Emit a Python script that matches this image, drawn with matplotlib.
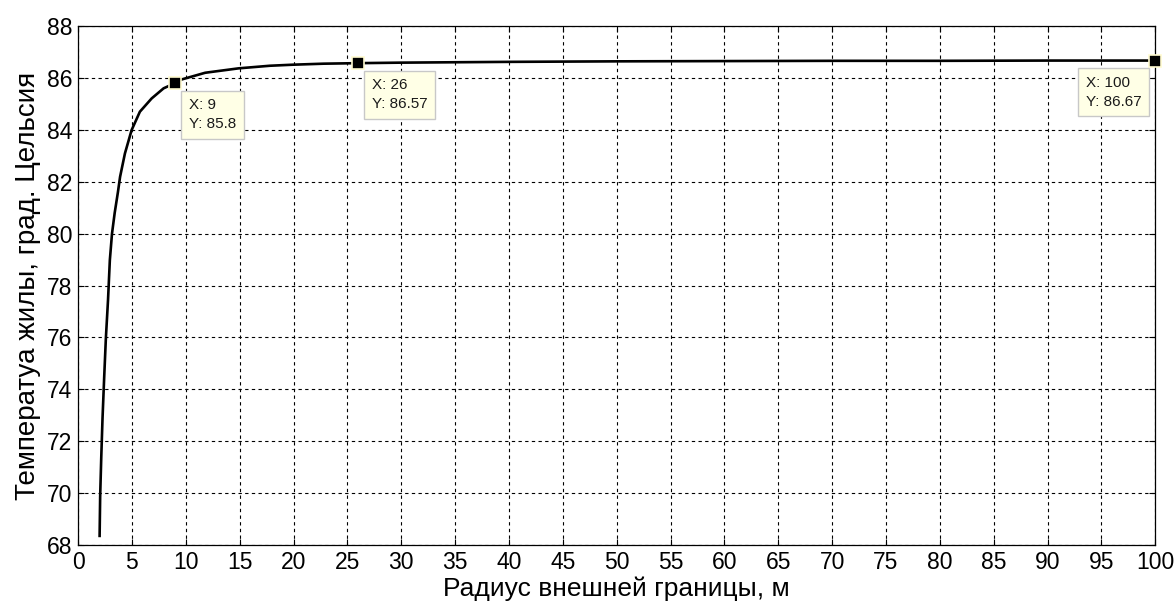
import matplotlib
matplotlib.use("Agg")
import matplotlib.pyplot as plt

plt.rcParams['font.family'] = ['Liberation Sans', 'DejaVu Sans']

# Core temperature vs. outer boundary radius
radius_m = [2.0, 2.05, 2.15, 2.27, 2.42, 2.58, 2.78, 2.95, 3.15, 3.4, 3.7,
            3.9, 4.35, 4.97, 5.74, 6.83, 7.94, 9.0, 9.6, 11.8, 14.9, 17.8,
            19.9, 22.8, 26.0, 30.0, 40.0, 50.0, 60.0, 70.0, 80.0, 90.0, 100.0]
temp_c = [68.35, 69.86, 71.34, 72.88, 74.42, 75.96, 77.44, 78.98, 80.0, 80.8,
          81.6, 82.19, 83.09, 83.99, 84.70, 85.21, 85.6, 85.8, 85.94, 86.2,
          86.37, 86.47, 86.51, 86.55, 86.57, 86.59, 86.62, 86.64, 86.65,
          86.66, 86.66, 86.67, 86.67]

# Data tips
tip_x = [9, 26, 100]
tip_y = [85.8, 86.57, 86.67]
tip_labels = ["X: 9\nY: 85.8", "X: 26\nY: 86.57", "X: 100\nY: 86.67"]

x_ticks = list(range(0, 101, 5))
y_ticks = list(range(68, 89, 2))

fig = plt.figure(figsize=(11.74, 6.06), dpi=100)
ax = fig.add_axes([0.0665, 0.1007, 0.9175, 0.8563])

ax.plot(radius_m, temp_c, color='black', linewidth=1.9, zorder=3)

ax.set_xlim(0, 100)
ax.set_ylim(68, 88)
ax.set_xticks(x_ticks)
ax.set_yticks(y_ticks)
ax.tick_params(direction='in', length=4, width=0.8, labelsize=16.5,
               top=True, right=True, pad=4)
ax.grid(True, color='black', linestyle=(0, (3, 3)), linewidth=0.8)
for s in ax.spines.values():
    s.set_linewidth(0.9)

ax.set_xlabel("Радиус внешней границы, м", fontsize=19, labelpad=2)
ax.set_ylabel("Температуа жилы, град. Цельсия", fontsize=20, labelpad=4)

for x, y, lab in zip(tip_x, tip_y, tip_labels):
    ax.plot([x], [y], marker='s', markersize=8, color='black',
            markeredgecolor='#fffbd0', markeredgewidth=1.2, zorder=5,
            clip_on=False)
    if x >= 100:
        off, ha = (-14, -15), 'right'
    else:
        off, ha = (14, -15), 'left'
    ax.annotate(lab, xy=(x, y), xytext=off, textcoords='offset pixels',
                ha=ha, va='top', multialignment='left', fontsize=11,
                linespacing=1.45, color='#1a1a1a', zorder=6,
                bbox=dict(boxstyle='square,pad=0.5', facecolor='#ffffe6',
                          edgecolor='#c8c8c8', linewidth=1.0))

fig.savefig("out.png", dpi=100)
